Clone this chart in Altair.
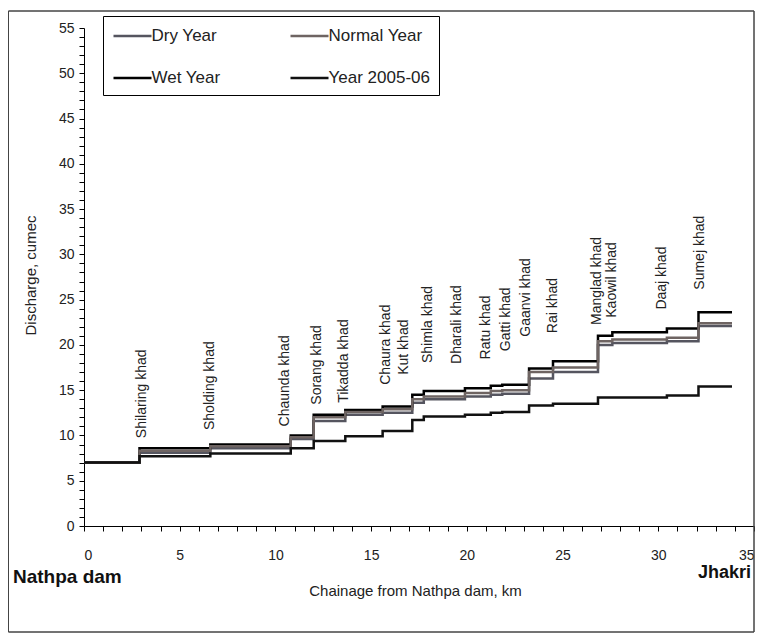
import altair as alt
import pandas as pd

# ---- data ----
chainage = [0, 2.9, 6.6, 10.8, 12.0, 13.65, 15.6, 17.15, 17.75, 19.9, 21.25, 21.85,
            23.25, 24.5, 26.85, 27.6, 30.45, 32.1, 33.85]
dry_year = [7.0, 8.1, 8.6, 9.6, 11.6, 12.3, 12.5, 13.6, 14.0, 14.3, 14.5, 14.6,
            16.3, 17.0, 20.0, 20.2, 20.4, 22.1, 22.1]
normal_year = [7.0, 8.3, 8.8, 9.8, 12.0, 12.6, 12.9, 14.0, 14.3, 14.7, 14.9, 15.0,
               17.0, 17.5, 20.4, 20.6, 20.8, 22.4, 22.4]
wet_year = [7.0, 8.6, 9.0, 10.0, 12.3, 12.8, 13.2, 14.5, 14.9, 15.2, 15.5, 15.6,
            17.4, 18.2, 21.0, 21.4, 21.8, 23.6, 23.6]
year_2005_06 = [7.0, 7.7, 8.0, 8.6, 9.4, 9.9, 10.5, 11.7, 12.1, 12.3, 12.5, 12.6,
                13.3, 13.5, 14.2, 14.2, 14.4, 15.4, 15.4]

# legend is laid out column by column: Dry/Wet in column 1, Normal/2005-06 in column 2
series_names = ["Dry Year", "Wet Year", "Normal Year", "Year 2005-06"]
series_colors = ["#55555f", "#000000", "#6e6462", "#111111"]
series_values = [dry_year, wet_year, normal_year, year_2005_06]

khad_names = ["Shilaring khad", "Sholding khad", "Chaunda khad", "Sorang khad",
              "Tikadda khad", "Chaura khad", "Kut khad", "Shimla khad",
              "Dharali khad", "Ratu khad", "Gatti khad", "Gaanvi khad", "Rai khad",
              "Manglad khad", "Kaowil khad", "Daaj khad", "Sumej khad"]
khad_x = [3.05, 6.6, 10.5, 12.15, 13.6, 15.8, 16.7, 17.97, 19.46, 21.0, 22.05,
          23.1, 24.5, 26.8, 27.6, 30.2, 32.2]
khad_y = [9.7, 10.6, 11.0, 13.4, 13.6, 15.6, 16.7, 18.0, 17.9, 18.4, 19.3,
          20.9, 21.3, 22.2, 23.0, 23.9, 26.1]

end_names = ["Nathpa dam", "Jhakri"]
end_x = [0, 35]

x_ticks = list(range(0, 36))
y_ticks = list(range(0, 56))

# ---- tables ----
rows = []
for name, vals in zip(series_names, series_values):
    for c, v in zip(chainage, vals):
        rows.append({"chainage": c, "discharge": v, "series": name})
df = pd.DataFrame(rows)
khads = pd.DataFrame({"name": khad_names, "x": khad_x, "y": khad_y})
ends = pd.DataFrame({"name": end_names, "x": end_x})

FONT = "Liberation Sans"
xscale = alt.Scale(domain=[0, 35], nice=False, zero=False)
yscale = alt.Scale(domain=[0, 55], nice=False)

lines = alt.Chart(df).mark_line(interpolate="step-after", strokeWidth=2.5).encode(
    x=alt.X("chainage:Q", scale=xscale,
            axis=alt.Axis(values=x_ticks, tickCount=200, labelOverlap=False, format="d",
                          labelExpr="datum.value % 5 == 0 ? datum.label : ''",
                          title="Chainage from Nathpa dam, km",
                          titleX=331, titleY=64, titleAlign="center",
                          titleBaseline="middle", labelPadding=17)),
    y=alt.Y("discharge:Q", scale=yscale,
            axis=alt.Axis(values=y_ticks, tickCount=200, labelOverlap=False, format="d",
                          labelExpr="datum.value % 5 == 0 ? datum.label : ''",
                          title="Discharge, cumec",
                          titleX=-54, titleY=247, titleAngle=270,
                          titleAlign="center", titleBaseline="middle",
                          labelPadding=5)),
    color=alt.Color("series:N",
                    scale=alt.Scale(domain=series_names, range=series_colors),
                    legend=alt.Legend(title=None, orient="none", legendX=19, legendY=-12,
                                      columns=2, symbolType="M-2,0H2", symbolSize=361,
                                      symbolStrokeWidth=2.5, symbolOffset=9.5,
                                      labelFontSize=17, labelFont=FONT, labelColor="#222",
                                      strokeColor="black", fillColor="white",
                                      padding=9, columnPadding=64, rowPadding=23,
                                      labelOffset=8)),
    detail="series:N",
)

labels = alt.Chart(khads).mark_text(angle=270, align="left", baseline="middle",
                                    fontSize=14, font=FONT, color="#222").encode(
    x=alt.X("x:Q", scale=xscale), y=alt.Y("y:Q", scale=yscale), text="name:N")

nathpa = alt.Chart(ends[ends["name"] == "Nathpa dam"]).mark_text(
    align="left", baseline="middle", fontSize=19, fontWeight="bold",
    font="Liberation Sans Narrow, Liberation Sans", dx=-71, color="#111").encode(
    x=alt.X("x:Q", scale=xscale), y=alt.value(549), text="name:N")
jhakri = alt.Chart(ends[ends["name"] == "Jhakri"]).mark_text(
    align="left", baseline="middle", fontSize=18, fontWeight="bold",
    font="Liberation Sans Narrow, Liberation Sans", dx=-56, color="#111").encode(
    x=alt.X("x:Q", scale=xscale), y=alt.value(545), text="name:N")

frame = alt.Chart(ends).mark_rect(fillOpacity=0, stroke="#444", strokeWidth=1).encode(
    x=alt.value(-75.5), x2=alt.value(670), y=alt.value(-17), y2=alt.value(604))

chart = alt.layer(frame, lines, labels, nathpa, jhakri).properties(
    width=670, height=498,
    autosize=alt.AutoSizeParams(type="none"),
    padding={"left": 76, "top": 20, "right": 1, "bottom": 107},
).configure_view(stroke=None).configure_axis(
    grid=False, domainColor="black", tickColor="black", tickSize=5,
    labelFont=FONT, labelFontSize=14, labelColor="#222",
    titleFont=FONT, titleFontSize=15, titleFontWeight="normal", titleColor="#222",
)

chart.save("out.html", embed_options={"renderer": "svg", "actions": False})
